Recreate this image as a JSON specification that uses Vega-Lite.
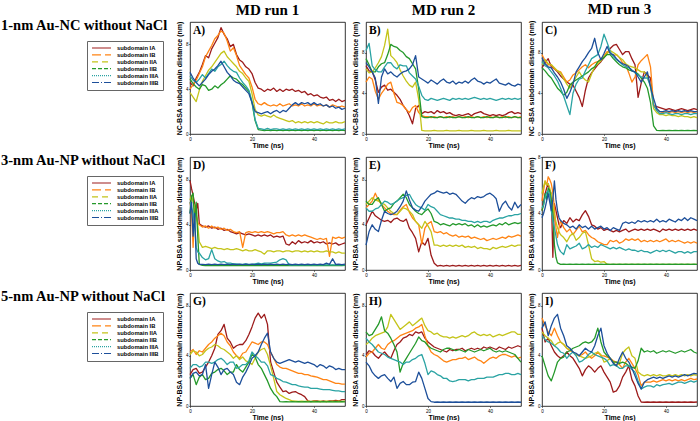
{
"$schema":"https://vega.github.io/schema/vega-lite/v6.json",
"padding":{"left":1,"top":1,"right":1,"bottom":1},
"datasets":{
"A":[{"t":0,"a":4.6,"b":4.0,"c":3.7,"d":4.9,"e":5.2,"f":5.5},{"t":1,"a":4.3,"b":4.4,"c":3.3,"d":4.5,"e":4.8,"f":5.0},{"t":2,"a":5.0,"b":4.8,"c":2.9,"d":4.2,"e":4.6,"f":4.6},{"t":3,"a":5.5,"b":5.4,"c":3.9,"d":4.0,"e":4.9,"f":4.3},{"t":4,"a":6.2,"b":6.0,"c":4.7,"d":4.4,"e":5.3,"f":4.6},{"t":5,"a":7.0,"b":6.9,"c":5.2,"d":4.3,"e":5.0,"f":4.9},{"t":6,"a":6.8,"b":7.4,"c":5.7,"d":3.9,"e":5.4,"f":5.3},{"t":7,"a":7.6,"b":7.9,"c":6.0,"d":4.0,"e":5.8,"f":5.6},{"t":8,"a":8.1,"b":8.5,"c":6.4,"d":4.3,"e":5.6,"f":5.8},{"t":9,"a":8.6,"b":8.8,"c":6.8,"d":4.1,"e":6.0,"f":6.1},{"t":10,"a":9.5,"b":9.2,"c":7.2,"d":4.4,"e":6.2,"f":6.5},{"t":11,"a":8.9,"b":9.0,"c":7.4,"d":4.6,"e":6.5,"f":6.0},{"t":12,"a":8.5,"b":8.3,"c":6.9,"d":4.9,"e":6.1,"f":5.5},{"t":13,"a":7.8,"b":7.4,"c":6.6,"d":5.2,"e":5.8,"f":5.2},{"t":14,"a":8.0,"b":7.7,"c":6.3,"d":5.0,"e":5.6,"f":4.8},{"t":15,"a":7.1,"b":7.0,"c":6.0,"d":4.9,"e":5.5,"f":4.6},{"t":16,"a":6.6,"b":6.1,"c":5.6,"d":4.6,"e":5.0,"f":4.5},{"t":17,"a":6.4,"b":5.7,"c":5.4,"d":4.4,"e":4.6,"f":4.2},{"t":18,"a":6.0,"b":5.3,"c":5.0,"d":4.1,"e":4.3,"f":3.9},{"t":19,"a":5.8,"b":5.0,"c":4.7,"d":3.8,"e":3.9,"f":3.6},{"t":20,"a":5.4,"b":4.2,"c":3.6,"d":2.8,"e":2.9,"f":2.8},{"t":21,"a":4.6,"b":3.1,"c":2.2,"d":1.2,"e":1.3,"f":2.0},{"t":22,"a":4.1,"b":2.7,"c":1.7,"d":0.4,"e":0.5,"f":1.9},{"t":23,"a":4.0,"b":2.6,"c":1.6,"d":0.35,"e":0.45,"f":1.8},{"t":24,"a":3.8,"b":2.8,"c":1.7,"d":0.3,"e":0.4,"f":1.9},{"t":25,"a":4.0,"b":2.6,"c":1.6,"d":0.35,"e":0.5,"f":2.0},{"t":26,"a":3.9,"b":2.5,"c":1.5,"d":0.3,"e":0.4,"f":1.8},{"t":27,"a":4.1,"b":2.6,"c":1.7,"d":0.35,"e":0.45,"f":2.0},{"t":28,"a":3.8,"b":2.5,"c":1.5,"d":0.3,"e":0.45,"f":2.1},{"t":29,"a":4.0,"b":2.7,"c":1.4,"d":0.35,"e":0.4,"f":1.9},{"t":30,"a":3.8,"b":2.5,"c":1.3,"d":0.3,"e":0.45,"f":2.1},{"t":31,"a":4.0,"b":2.6,"c":1.2,"d":0.35,"e":0.4,"f":2.0},{"t":32,"a":3.9,"b":2.7,"c":1.1,"d":0.3,"e":0.45,"f":2.3},{"t":33,"a":4.0,"b":2.5,"c":1.2,"d":0.35,"e":0.4,"f":2.6},{"t":34,"a":3.8,"b":2.6,"c":1.0,"d":0.3,"e":0.45,"f":2.8},{"t":35,"a":3.9,"b":2.5,"c":1.1,"d":0.35,"e":0.4,"f":2.6},{"t":36,"a":3.7,"b":2.7,"c":1.0,"d":0.3,"e":0.45,"f":2.8},{"t":37,"a":3.8,"b":2.5,"c":1.1,"d":0.35,"e":0.4,"f":2.7},{"t":38,"a":3.5,"b":2.6,"c":1.0,"d":0.3,"e":0.45,"f":2.8},{"t":39,"a":3.6,"b":2.5,"c":1.1,"d":0.35,"e":0.4,"f":2.6},{"t":40,"a":3.4,"b":2.7,"c":1.0,"d":0.3,"e":0.45,"f":2.8},{"t":41,"a":3.5,"b":2.5,"c":1.1,"d":0.35,"e":0.4,"f":2.6},{"t":42,"a":3.3,"b":2.6,"c":1.0,"d":0.3,"e":0.45,"f":2.7},{"t":43,"a":3.2,"b":2.5,"c":0.9,"d":0.35,"e":0.4,"f":2.5},{"t":44,"a":3.3,"b":2.6,"c":1.1,"d":0.3,"e":0.45,"f":2.6},{"t":45,"a":3.0,"b":2.4,"c":1.0,"d":0.35,"e":0.4,"f":2.4},{"t":46,"a":3.1,"b":2.6,"c":1.0,"d":0.3,"e":0.45,"f":2.5},{"t":47,"a":2.9,"b":2.5,"c":1.1,"d":0.35,"e":0.4,"f":2.3},{"t":48,"a":3.1,"b":2.4,"c":1.0,"d":0.3,"e":0.45,"f":2.4},{"t":49,"a":2.9,"b":2.5,"c":1.0,"d":0.35,"e":0.4,"f":2.2},{"t":50,"a":3.0,"b":2.4,"c":1.1,"d":0.3,"e":0.45,"f":2.3}],
"B":[{"t":0,"a":6.7,"b":5.1,"c":6.4,"d":7.4,"e":8.2,"f":7.0},{"t":1,"a":6.2,"b":5.6,"c":6.0,"d":6.8,"e":8.9,"f":6.6},{"t":2,"a":6.1,"b":5.4,"c":6.1,"d":6.1,"e":6.7,"f":6.1},{"t":3,"a":5.3,"b":4.2,"c":6.5,"d":6.1,"e":6.3,"f":5.5},{"t":4,"a":4.1,"b":3.4,"c":7.0,"d":6.6,"e":6.1,"f":3.0},{"t":5,"a":4.6,"b":4.0,"c":7.6,"d":6.9,"e":6.1,"f":5.6},{"t":6,"a":4.8,"b":4.4,"c":8.7,"d":7.0,"e":6.6,"f":6.4},{"t":7,"a":4.3,"b":4.9,"c":10.3,"d":7.8,"e":7.0,"f":5.9},{"t":8,"a":4.4,"b":5.1,"c":7.7,"d":8.8,"e":7.0,"f":6.1},{"t":9,"a":4.1,"b":4.0,"c":7.4,"d":8.6,"e":6.6,"f":5.8},{"t":10,"a":3.8,"b":3.1,"c":7.0,"d":8.5,"e":6.4,"f":5.6},{"t":11,"a":3.4,"b":3.0,"c":6.3,"d":8.2,"e":6.8,"f":5.9},{"t":12,"a":2.8,"b":2.8,"c":5.7,"d":8.0,"e":6.7,"f":6.1},{"t":13,"a":2.4,"b":2.4,"c":5.2,"d":7.6,"e":6.7,"f":6.2},{"t":14,"a":1.8,"b":2.1,"c":4.8,"d":7.4,"e":6.0,"f":6.4},{"t":15,"a":1.0,"b":2.6,"c":4.6,"d":6.9,"e":5.7,"f":6.8},{"t":16,"a":2.5,"b":2.8,"c":5.1,"d":6.4,"e":5.4,"f":7.7},{"t":17,"a":2.8,"b":2.1,"c":3.4,"d":4.4,"e":4.7,"f":5.6},{"t":18,"a":2.0,"b":1.8,"c":0.35,"d":1.7,"e":3.8,"f":5.4},{"t":19,"a":2.2,"b":1.7,"c":0.3,"d":1.6,"e":3.4,"f":5.2},{"t":20,"a":2.1,"b":1.7,"c":0.3,"d":1.6,"e":3.3,"f":5.0},{"t":21,"a":2.2,"b":1.6,"c":0.3,"d":1.7,"e":3.5,"f":5.3},{"t":22,"a":2.0,"b":1.7,"c":0.35,"d":1.6,"e":3.4,"f":5.1},{"t":23,"a":2.3,"b":1.6,"c":0.3,"d":1.6,"e":3.3,"f":4.9},{"t":24,"a":2.1,"b":1.7,"c":0.3,"d":1.7,"e":3.4,"f":5.2},{"t":25,"a":2.2,"b":1.6,"c":0.3,"d":1.6,"e":3.5,"f":5.4},{"t":26,"a":2.0,"b":1.7,"c":0.35,"d":1.6,"e":3.4,"f":5.1},{"t":27,"a":2.1,"b":1.6,"c":0.3,"d":1.7,"e":3.3,"f":5.0},{"t":28,"a":1.9,"b":1.7,"c":0.3,"d":1.6,"e":3.5,"f":5.2},{"t":29,"a":1.8,"b":1.6,"c":0.3,"d":1.6,"e":3.4,"f":4.9},{"t":30,"a":1.9,"b":1.7,"c":0.35,"d":1.7,"e":3.5,"f":5.1},{"t":31,"a":1.8,"b":1.6,"c":0.3,"d":1.6,"e":3.4,"f":5.0},{"t":32,"a":1.9,"b":1.7,"c":0.3,"d":1.6,"e":3.5,"f":5.2},{"t":33,"a":2.0,"b":1.6,"c":0.3,"d":1.7,"e":3.4,"f":5.0},{"t":34,"a":1.8,"b":1.7,"c":0.35,"d":1.6,"e":3.5,"f":5.3},{"t":35,"a":2.0,"b":1.6,"c":0.3,"d":1.6,"e":3.6,"f":5.5},{"t":36,"a":2.1,"b":1.7,"c":0.3,"d":1.7,"e":3.5,"f":5.2},{"t":37,"a":2.2,"b":1.6,"c":0.3,"d":1.6,"e":3.4,"f":5.1},{"t":38,"a":2.0,"b":1.7,"c":0.35,"d":1.6,"e":3.5,"f":4.9},{"t":39,"a":1.9,"b":1.6,"c":0.3,"d":1.7,"e":3.4,"f":5.1},{"t":40,"a":1.8,"b":1.7,"c":0.3,"d":1.6,"e":3.5,"f":5.0},{"t":41,"a":1.9,"b":1.6,"c":0.3,"d":1.6,"e":3.4,"f":5.2},{"t":42,"a":1.8,"b":1.7,"c":0.35,"d":1.7,"e":3.3,"f":5.4},{"t":43,"a":1.9,"b":1.6,"c":0.3,"d":1.6,"e":3.4,"f":5.0},{"t":44,"a":1.8,"b":1.7,"c":0.3,"d":1.6,"e":3.5,"f":4.9},{"t":45,"a":1.9,"b":1.6,"c":0.3,"d":1.7,"e":3.4,"f":4.8},{"t":46,"a":2.1,"b":1.7,"c":0.35,"d":1.6,"e":3.5,"f":5.0},{"t":47,"a":2.2,"b":1.6,"c":0.3,"d":1.6,"e":3.4,"f":4.8},{"t":48,"a":2.0,"b":1.7,"c":0.3,"d":1.7,"e":3.5,"f":4.7},{"t":49,"a":2.1,"b":1.6,"c":0.3,"d":1.6,"e":3.4,"f":4.9},{"t":50,"a":2.0,"b":1.7,"c":0.3,"d":1.6,"e":3.5,"f":4.8}],
"C":[{"t":0,"a":6.5,"b":7.8,"c":6.8,"d":6.5,"e":7.1,"f":7.5},{"t":1,"a":7.0,"b":7.2,"c":7.3,"d":6.2,"e":6.7,"f":6.9},{"t":2,"a":7.4,"b":6.8,"c":6.9,"d":5.8,"e":6.5,"f":6.6},{"t":3,"a":6.6,"b":6.8,"c":6.8,"d":5.5,"e":6.1,"f":6.5},{"t":4,"a":6.4,"b":6.4,"c":6.5,"d":5.0,"e":5.7,"f":6.0},{"t":5,"a":6.1,"b":6.2,"c":6.2,"d":4.5,"e":5.2,"f":5.6},{"t":6,"a":5.7,"b":6.1,"c":6.0,"d":4.2,"e":4.5,"f":5.1},{"t":7,"a":5.4,"b":5.6,"c":5.4,"d":3.8,"e":3.7,"f":4.4},{"t":8,"a":5.1,"b":5.1,"c":4.9,"d":4.1,"e":2.8,"f":3.5},{"t":9,"a":4.9,"b":5.3,"c":4.5,"d":4.8,"e":1.9,"f":4.1},{"t":10,"a":4.8,"b":5.8,"c":5.0,"d":5.1,"e":4.0,"f":4.9},{"t":11,"a":4.2,"b":6.0,"c":5.6,"d":5.3,"e":4.9,"f":6.1},{"t":12,"a":3.6,"b":6.3,"c":6.1,"d":5.5,"e":5.4,"f":6.6},{"t":13,"a":2.7,"b":6.6,"c":5.6,"d":5.7,"e":5.5,"f":7.1},{"t":14,"a":4.3,"b":6.8,"c":5.3,"d":5.9,"e":6.2,"f":7.5},{"t":15,"a":5.5,"b":6.5,"c":5.1,"d":6.1,"e":6.8,"f":8.0},{"t":16,"a":6.0,"b":6.8,"c":5.9,"d":6.4,"e":7.4,"f":8.4},{"t":17,"a":6.4,"b":7.0,"c":6.6,"d":6.6,"e":7.6,"f":9.4},{"t":18,"a":6.8,"b":7.1,"c":6.9,"d":7.1,"e":7.8,"f":8.0},{"t":19,"a":7.1,"b":7.4,"c":7.2,"d":7.3,"e":8.6,"f":7.3},{"t":20,"a":7.5,"b":7.7,"c":7.6,"d":7.5,"e":9.8,"f":7.9},{"t":21,"a":7.9,"b":8.1,"c":7.9,"d":7.8,"e":9.0,"f":8.6},{"t":22,"a":8.4,"b":8.0,"c":8.2,"d":7.8,"e":8.1,"f":7.9},{"t":23,"a":8.7,"b":7.7,"c":8.0,"d":7.4,"e":7.6,"f":7.8},{"t":24,"a":8.8,"b":7.8,"c":7.8,"d":7.1,"e":7.3,"f":7.4},{"t":25,"a":8.3,"b":7.5,"c":7.5,"d":6.8,"e":7.1,"f":7.1},{"t":26,"a":7.8,"b":7.0,"c":7.3,"d":6.6,"e":6.8,"f":6.9},{"t":27,"a":8.1,"b":6.8,"c":6.9,"d":6.5,"e":6.6,"f":6.8},{"t":28,"a":8.1,"b":6.0,"c":6.7,"d":6.3,"e":6.5,"f":6.6},{"t":29,"a":7.4,"b":5.1,"c":6.6,"d":6.2,"e":6.3,"f":6.2},{"t":30,"a":6.8,"b":5.6,"c":6.5,"d":6.1,"e":6.0,"f":6.1},{"t":31,"a":3.6,"b":6.8,"c":6.3,"d":5.9,"e":5.8,"f":5.6},{"t":32,"a":5.0,"b":7.2,"c":6.1,"d":5.5,"e":5.6,"f":5.1},{"t":33,"a":6.1,"b":7.5,"c":6.1,"d":5.1,"e":5.5,"f":5.6},{"t":34,"a":5.8,"b":7.8,"c":5.6,"d":4.5,"e":5.5,"f":6.1},{"t":35,"a":5.5,"b":6.6,"c":4.8,"d":3.1,"e":4.7,"f":4.6},{"t":36,"a":2.8,"b":2.9,"c":2.5,"d":0.8,"e":2.8,"f":3.5},{"t":37,"a":2.7,"b":2.4,"c":2.1,"d":0.35,"e":2.3,"f":2.5},{"t":38,"a":2.6,"b":2.2,"c":1.9,"d":0.33,"e":2.0,"f":2.2},{"t":39,"a":2.5,"b":2.1,"c":1.9,"d":0.35,"e":2.0,"f":2.2},{"t":40,"a":2.4,"b":2.2,"c":1.8,"d":0.33,"e":2.1,"f":2.3},{"t":41,"a":2.5,"b":2.1,"c":1.9,"d":0.35,"e":2.0,"f":2.2},{"t":42,"a":2.4,"b":2.2,"c":1.8,"d":0.33,"e":1.9,"f":2.3},{"t":43,"a":2.3,"b":2.1,"c":1.8,"d":0.35,"e":2.0,"f":2.2},{"t":44,"a":2.4,"b":2.2,"c":1.7,"d":0.33,"e":2.0,"f":2.3},{"t":45,"a":2.5,"b":2.1,"c":1.8,"d":0.35,"e":1.9,"f":2.2},{"t":46,"a":2.4,"b":2.2,"c":1.7,"d":0.33,"e":2.0,"f":2.3},{"t":47,"a":2.3,"b":2.1,"c":1.7,"d":0.35,"e":2.0,"f":2.2},{"t":48,"a":2.4,"b":2.2,"c":1.6,"d":0.33,"e":1.9,"f":2.3},{"t":49,"a":2.5,"b":2.1,"c":1.7,"d":0.35,"e":2.0,"f":2.2},{"t":50,"a":2.4,"b":2.2,"c":1.6,"d":0.33,"e":2.0,"f":2.2}],
"D":[{"t":0,"a":7.9,"b":6.0,"c":6.2,"d":5.0,"e":6.0,"f":5.0},{"t":0.5,"a":7.2,"b":5.2,"c":6.6,"d":6.5,"e":5.5,"f":6.0},{"t":1,"a":6.6,"b":2.0,"c":6.0,"d":6.8,"e":5.0,"f":3.0},{"t":1.5,"a":5.9,"b":5.5,"c":5.6,"d":4.0,"e":4.2,"f":5.0},{"t":2,"a":5.3,"b":4.8,"c":5.0,"d":6.0,"e":2.0,"f":1.0},{"t":2.5,"a":5.9,"b":4.2,"c":4.0,"d":3.0,"e":1.6,"f":0.6},{"t":3,"a":4.1,"b":4.0,"c":2.5,"d":0.5,"e":1.5,"f":0.5},{"t":4,"a":3.9,"b":3.8,"c":2.0,"d":0.42,"e":1.1,"f":0.5},{"t":5,"a":3.8,"b":3.9,"c":2.1,"d":0.38,"e":0.9,"f":0.48},{"t":6,"a":3.9,"b":3.7,"c":2.0,"d":0.42,"e":1.0,"f":0.52},{"t":7,"a":3.7,"b":3.9,"c":1.9,"d":0.38,"e":1.8,"f":0.48},{"t":8,"a":3.8,"b":3.7,"c":2.0,"d":0.42,"e":1.0,"f":0.52},{"t":9,"a":3.6,"b":3.8,"c":1.9,"d":0.38,"e":0.8,"f":0.48},{"t":10,"a":3.7,"b":3.6,"c":1.9,"d":0.42,"e":0.7,"f":0.52},{"t":11,"a":3.5,"b":3.7,"c":1.8,"d":0.38,"e":0.75,"f":0.48},{"t":12,"a":3.6,"b":3.5,"c":1.9,"d":0.42,"e":0.6,"f":0.52},{"t":13,"a":3.4,"b":3.6,"c":1.8,"d":0.38,"e":0.6,"f":0.48},{"t":14,"a":3.3,"b":3.4,"c":1.8,"d":0.42,"e":0.55,"f":0.52},{"t":15,"a":3.2,"b":3.3,"c":1.9,"d":0.38,"e":0.55,"f":0.48},{"t":16,"a":3.3,"b":3.4,"c":1.8,"d":0.42,"e":0.5,"f":0.52},{"t":17,"a":3.2,"b":2.0,"c":1.7,"d":0.38,"e":0.5,"f":0.48},{"t":18,"a":3.1,"b":3.3,"c":1.8,"d":0.42,"e":0.55,"f":0.52},{"t":19,"a":3.2,"b":3.4,"c":1.7,"d":0.38,"e":0.5,"f":0.48},{"t":20,"a":3.1,"b":3.3,"c":1.7,"d":0.42,"e":0.5,"f":0.52},{"t":21,"a":3.0,"b":3.4,"c":1.8,"d":0.38,"e":0.55,"f":0.48},{"t":22,"a":3.1,"b":3.3,"c":1.7,"d":0.42,"e":0.6,"f":0.52},{"t":23,"a":3.0,"b":3.4,"c":1.6,"d":0.38,"e":0.55,"f":0.48},{"t":24,"a":3.1,"b":3.3,"c":1.4,"d":0.42,"e":0.6,"f":0.52},{"t":25,"a":3.0,"b":3.4,"c":1.7,"d":0.38,"e":0.6,"f":0.48},{"t":26,"a":3.1,"b":3.3,"c":1.7,"d":0.42,"e":0.6,"f":0.52},{"t":27,"a":2.9,"b":3.2,"c":1.6,"d":0.38,"e":0.65,"f":0.48},{"t":28,"a":3.0,"b":3.3,"c":1.7,"d":0.42,"e":0.7,"f":0.52},{"t":29,"a":2.9,"b":3.3,"c":1.7,"d":0.38,"e":0.9,"f":0.48},{"t":30,"a":3.0,"b":3.4,"c":1.6,"d":0.42,"e":1.0,"f":0.52},{"t":31,"a":2.3,"b":3.1,"c":1.7,"d":0.38,"e":0.9,"f":0.48},{"t":32,"a":2.2,"b":3.0,"c":1.7,"d":0.42,"e":0.45,"f":0.52},{"t":33,"a":2.5,"b":3.1,"c":1.6,"d":0.38,"e":0.45,"f":0.48},{"t":34,"a":2.3,"b":3.0,"c":1.7,"d":0.42,"e":0.45,"f":0.52},{"t":35,"a":2.6,"b":3.1,"c":1.7,"d":0.38,"e":0.45,"f":0.48},{"t":36,"a":2.4,"b":3.0,"c":1.6,"d":0.42,"e":0.45,"f":0.52},{"t":37,"a":2.5,"b":3.1,"c":1.7,"d":0.38,"e":0.45,"f":0.48},{"t":38,"a":2.4,"b":3.0,"c":1.6,"d":0.42,"e":0.45,"f":0.52},{"t":39,"a":2.6,"b":2.9,"c":1.7,"d":0.38,"e":0.45,"f":0.48},{"t":40,"a":2.4,"b":2.8,"c":1.6,"d":0.42,"e":0.45,"f":0.52},{"t":41,"a":2.5,"b":2.7,"c":1.7,"d":0.38,"e":0.45,"f":0.48},{"t":42,"a":2.4,"b":2.8,"c":1.6,"d":0.42,"e":0.45,"f":0.52},{"t":43,"a":2.5,"b":2.7,"c":1.6,"d":0.38,"e":0.45,"f":0.48},{"t":44,"a":2.3,"b":2.8,"c":1.7,"d":0.42,"e":0.45,"f":0.6},{"t":45,"a":2.4,"b":1.2,"c":1.6,"d":0.38,"e":0.45,"f":0.5},{"t":46,"a":2.3,"b":2.9,"c":1.6,"d":0.42,"e":0.45,"f":1.0},{"t":47,"a":2.4,"b":2.8,"c":1.5,"d":0.38,"e":0.45,"f":0.5},{"t":48,"a":2.2,"b":2.9,"c":1.6,"d":0.42,"e":0.45,"f":0.52},{"t":49,"a":2.3,"b":2.8,"c":1.5,"d":0.38,"e":0.45,"f":0.48},{"t":50,"a":2.4,"b":2.9,"c":1.5,"d":0.42,"e":0.45,"f":0.52}],
"E":[{"t":0,"a":4.0,"b":5.5,"c":5.8,"d":6.1,"e":5.5,"f":2.2},{"t":1,"a":4.6,"b":5.8,"c":6.1,"d":5.8,"e":5.2,"f":3.4},{"t":2,"a":5.2,"b":6.1,"c":6.4,"d":5.8,"e":5.2,"f":4.0},{"t":3,"a":4.8,"b":6.8,"c":6.2,"d":6.2,"e":5.4,"f":3.6},{"t":4,"a":4.6,"b":6.2,"c":6.1,"d":6.4,"e":5.5,"f":3.4},{"t":5,"a":4.4,"b":5.8,"c":5.9,"d":5.8,"e":5.8,"f":4.4},{"t":6,"a":4.3,"b":5.5,"c":5.8,"d":5.2,"e":6.1,"f":5.2},{"t":7,"a":4.4,"b":5.2,"c":5.5,"d":5.4,"e":6.0,"f":5.0},{"t":8,"a":4.2,"b":5.0,"c":5.2,"d":5.5,"e":5.8,"f":4.9},{"t":9,"a":4.5,"b":4.9,"c":5.0,"d":5.9,"e":5.9,"f":5.0},{"t":10,"a":4.6,"b":4.9,"c":4.9,"d":6.1,"e":6.1,"f":5.2},{"t":11,"a":4.4,"b":5.3,"c":5.2,"d":6.4,"e":6.3,"f":5.6},{"t":12,"a":4.3,"b":5.6,"c":5.5,"d":6.7,"e":6.4,"f":6.1},{"t":13,"a":4.5,"b":5.8,"c":5.4,"d":6.4,"e":6.6,"f":7.0},{"t":14,"a":3.7,"b":5.1,"c":5.2,"d":5.8,"e":6.7,"f":6.2},{"t":15,"a":3.3,"b":4.6,"c":4.9,"d":5.5,"e":6.2,"f":5.5},{"t":16,"a":2.8,"b":4.3,"c":4.3,"d":5.2,"e":5.8,"f":5.3},{"t":17,"a":1.6,"b":4.0,"c":4.0,"d":5.0,"e":5.6,"f":5.2},{"t":18,"a":2.5,"b":2.3,"c":3.7,"d":4.9,"e":5.5,"f":5.6},{"t":19,"a":2.2,"b":3.7,"c":4.3,"d":5.2,"e":5.3,"f":6.1},{"t":20,"a":2.8,"b":4.1,"c":3.9,"d":5.4,"e":5.8,"f":6.4},{"t":21,"a":1.3,"b":4.3,"c":3.4,"d":5.0,"e":5.6,"f":6.7},{"t":22,"a":0.6,"b":3.4,"c":2.2,"d":4.3,"e":5.5,"f":6.8},{"t":23,"a":0.35,"b":3.3,"c":2.2,"d":4.2,"e":5.2,"f":7.0},{"t":24,"a":0.4,"b":3.4,"c":2.1,"d":4.0,"e":4.9,"f":6.9},{"t":25,"a":0.35,"b":3.2,"c":2.2,"d":4.1,"e":4.8,"f":6.8},{"t":26,"a":0.4,"b":3.3,"c":2.1,"d":4.0,"e":4.7,"f":6.9},{"t":27,"a":0.35,"b":3.1,"c":2.2,"d":3.9,"e":4.6,"f":6.7},{"t":28,"a":0.4,"b":3.0,"c":2.1,"d":4.1,"e":4.6,"f":6.8},{"t":29,"a":0.35,"b":3.1,"c":2.2,"d":4.0,"e":4.5,"f":6.7},{"t":30,"a":0.4,"b":2.9,"c":2.1,"d":4.1,"e":4.5,"f":6.4},{"t":31,"a":0.35,"b":3.0,"c":2.2,"d":4.0,"e":4.4,"f":6.1},{"t":32,"a":0.4,"b":2.9,"c":2.0,"d":4.1,"e":4.4,"f":5.9},{"t":33,"a":0.35,"b":3.0,"c":2.1,"d":3.9,"e":4.3,"f":6.2},{"t":34,"a":0.4,"b":2.8,"c":2.0,"d":4.0,"e":4.3,"f":6.4},{"t":35,"a":0.35,"b":2.9,"c":2.1,"d":3.8,"e":4.2,"f":6.3},{"t":36,"a":0.4,"b":2.8,"c":1.9,"d":4.0,"e":4.3,"f":6.5},{"t":37,"a":0.35,"b":2.7,"c":2.0,"d":3.8,"e":4.2,"f":6.4},{"t":38,"a":0.4,"b":2.8,"c":1.9,"d":3.9,"e":4.3,"f":6.5},{"t":39,"a":0.35,"b":2.6,"c":1.9,"d":3.8,"e":4.3,"f":6.7},{"t":40,"a":0.4,"b":2.7,"c":1.8,"d":3.9,"e":4.2,"f":6.8},{"t":41,"a":0.35,"b":2.8,"c":2.0,"d":4.0,"e":4.4,"f":6.6},{"t":42,"a":0.4,"b":2.7,"c":1.9,"d":3.9,"e":4.5,"f":6.3},{"t":43,"a":0.35,"b":2.8,"c":2.0,"d":4.1,"e":4.6,"f":5.2},{"t":44,"a":0.4,"b":2.9,"c":2.1,"d":4.0,"e":4.6,"f":5.8},{"t":45,"a":0.35,"b":2.8,"c":2.0,"d":4.2,"e":4.7,"f":6.1},{"t":46,"a":0.4,"b":3.0,"c":2.1,"d":4.0,"e":4.8,"f":5.6},{"t":47,"a":0.35,"b":2.9,"c":2.2,"d":4.1,"e":4.8,"f":5.3},{"t":48,"a":0.4,"b":3.0,"c":2.1,"d":4.2,"e":4.9,"f":6.0},{"t":49,"a":0.35,"b":3.1,"c":2.2,"d":4.1,"e":4.9,"f":5.5},{"t":50,"a":0.4,"b":3.0,"c":2.2,"d":4.2,"e":5.0,"f":5.8}],
"F":[{"t":0,"a":4.2,"b":4.9,"c":5.4,"d":4.2,"e":4.4,"f":3.7},{"t":0.5,"a":4.8,"b":5.6,"c":5.9,"d":4.6,"e":4.6,"f":4.0},{"t":1,"a":5.4,"b":6.3,"c":6.3,"d":5.4,"e":5.1,"f":4.4},{"t":1.5,"a":5.8,"b":6.0,"c":6.0,"d":5.0,"e":5.5,"f":4.9},{"t":2,"a":6.1,"b":6.6,"c":6.1,"d":5.8,"e":5.6,"f":5.4},{"t":2.5,"a":5.6,"b":6.4,"c":5.8,"d":5.6,"e":5.3,"f":4.8},{"t":3,"a":5.4,"b":6.1,"c":5.4,"d":4.9,"e":4.2,"f":4.2},{"t":3.5,"a":0.9,"b":5.5,"c":4.6,"d":4.0,"e":3.5,"f":5.0},{"t":4,"a":4.7,"b":4.4,"c":3.9,"d":1.8,"e":3.0,"f":6.3},{"t":4.5,"a":4.2,"b":3.0,"c":3.4,"d":0.9,"e":2.4,"f":5.0},{"t":5,"a":3.7,"b":2.3,"c":3.0,"d":0.5,"e":1.8,"f":4.2},{"t":5.5,"a":3.2,"b":3.0,"c":2.7,"d":0.45,"e":1.5,"f":3.7},{"t":6,"a":3.0,"b":3.5,"c":2.5,"d":0.4,"e":1.3,"f":3.5},{"t":7,"a":3.5,"b":3.0,"c":2.3,"d":0.42,"e":1.1,"f":3.3},{"t":8,"a":3.3,"b":2.7,"c":2.0,"d":0.4,"e":1.8,"f":3.2},{"t":9,"a":3.7,"b":2.9,"c":2.4,"d":0.42,"e":1.5,"f":3.0},{"t":10,"a":3.4,"b":2.5,"c":2.6,"d":0.4,"e":1.6,"f":3.1},{"t":11,"a":3.6,"b":2.8,"c":2.1,"d":0.42,"e":1.7,"f":2.9},{"t":12,"a":3.5,"b":3.1,"c":2.3,"d":0.4,"e":1.9,"f":3.2},{"t":13,"a":3.9,"b":2.7,"c":2.6,"d":0.42,"e":1.5,"f":3.0},{"t":14,"a":4.2,"b":2.8,"c":2.7,"d":0.4,"e":1.6,"f":3.1},{"t":15,"a":3.8,"b":2.5,"c":1.8,"d":0.42,"e":1.8,"f":2.9},{"t":16,"a":3.2,"b":2.3,"c":0.8,"d":0.4,"e":1.6,"f":3.1},{"t":17,"a":3.1,"b":2.2,"c":0.6,"d":0.42,"e":1.7,"f":2.9},{"t":18,"a":2.9,"b":2.0,"c":0.65,"d":0.4,"e":1.6,"f":3.0},{"t":19,"a":3.0,"b":1.9,"c":0.55,"d":0.42,"e":1.8,"f":3.1},{"t":20,"a":2.8,"b":1.8,"c":0.6,"d":0.4,"e":1.7,"f":2.9},{"t":21,"a":2.9,"b":1.8,"c":0.4,"d":0.42,"e":1.6,"f":3.0},{"t":22,"a":2.8,"b":2.1,"c":0.4,"d":0.4,"e":1.5,"f":2.8},{"t":23,"a":2.7,"b":2.0,"c":0.4,"d":0.42,"e":1.6,"f":3.0},{"t":24,"a":2.8,"b":2.1,"c":0.4,"d":0.4,"e":1.5,"f":2.9},{"t":25,"a":2.7,"b":1.9,"c":0.4,"d":0.42,"e":1.6,"f":2.8},{"t":26,"a":2.8,"b":2.0,"c":0.4,"d":0.4,"e":1.5,"f":3.3},{"t":27,"a":2.9,"b":2.2,"c":0.4,"d":0.42,"e":1.4,"f":3.4},{"t":28,"a":2.7,"b":2.1,"c":0.4,"d":0.4,"e":1.5,"f":3.3},{"t":29,"a":2.8,"b":2.2,"c":0.4,"d":0.42,"e":1.4,"f":3.4},{"t":30,"a":2.9,"b":2.1,"c":0.4,"d":0.4,"e":1.4,"f":3.3},{"t":31,"a":2.8,"b":2.2,"c":0.4,"d":0.42,"e":1.3,"f":3.5},{"t":32,"a":2.9,"b":2.0,"c":0.4,"d":0.4,"e":1.4,"f":3.4},{"t":33,"a":2.8,"b":2.1,"c":0.4,"d":0.42,"e":1.3,"f":3.5},{"t":34,"a":2.9,"b":2.0,"c":0.4,"d":0.4,"e":1.3,"f":3.4},{"t":35,"a":2.8,"b":2.1,"c":0.4,"d":0.42,"e":1.2,"f":3.5},{"t":36,"a":2.9,"b":2.0,"c":0.4,"d":0.4,"e":1.3,"f":3.4},{"t":37,"a":2.8,"b":2.1,"c":0.4,"d":0.42,"e":1.4,"f":3.6},{"t":38,"a":2.7,"b":2.0,"c":0.4,"d":0.4,"e":1.3,"f":3.4},{"t":39,"a":2.9,"b":2.1,"c":0.4,"d":0.42,"e":1.4,"f":3.5},{"t":40,"a":2.8,"b":2.2,"c":0.4,"d":0.4,"e":1.3,"f":3.4},{"t":41,"a":2.9,"b":2.0,"c":0.4,"d":0.42,"e":1.4,"f":3.6},{"t":42,"a":2.8,"b":2.1,"c":0.4,"d":0.4,"e":1.3,"f":3.5},{"t":43,"a":2.9,"b":2.0,"c":0.4,"d":0.42,"e":1.2,"f":3.4},{"t":44,"a":2.8,"b":2.1,"c":0.4,"d":0.4,"e":1.3,"f":3.6},{"t":45,"a":2.9,"b":2.0,"c":0.4,"d":0.42,"e":1.3,"f":3.5},{"t":46,"a":2.8,"b":1.9,"c":0.4,"d":0.4,"e":1.2,"f":3.7},{"t":47,"a":2.9,"b":2.0,"c":0.4,"d":0.42,"e":1.3,"f":3.5},{"t":48,"a":2.8,"b":1.9,"c":0.4,"d":0.4,"e":1.2,"f":3.7},{"t":49,"a":2.9,"b":2.0,"c":0.4,"d":0.42,"e":1.3,"f":3.6},{"t":50,"a":2.8,"b":1.9,"c":0.4,"d":0.4,"e":1.3,"f":3.5}],
"G":[{"t":0,"a":2.5,"b":4.3,"c":4.1,"d":2.2,"e":3.0,"f":2.2},{"t":1,"a":2.9,"b":4.5,"c":4.4,"d":2.5,"e":3.3,"f":2.6},{"t":2,"a":3.0,"b":4.1,"c":4.3,"d":1.7,"e":3.3,"f":2.7},{"t":3,"a":2.6,"b":4.4,"c":4.0,"d":2.3,"e":3.1,"f":2.4},{"t":4,"a":2.7,"b":4.3,"c":4.1,"d":2.5,"e":3.2,"f":2.5},{"t":5,"a":3.1,"b":4.6,"c":4.4,"d":2.1,"e":3.5,"f":3.3},{"t":6,"a":3.5,"b":4.9,"c":4.6,"d":2.2,"e":3.5,"f":1.4},{"t":7,"a":4.0,"b":5.1,"c":4.7,"d":2.6,"e":3.4,"f":2.5},{"t":8,"a":4.6,"b":5.4,"c":4.9,"d":2.7,"e":3.5,"f":3.5},{"t":9,"a":5.7,"b":5.6,"c":4.8,"d":2.9,"e":3.7,"f":3.1},{"t":10,"a":6.0,"b":5.8,"c":4.6,"d":3.0,"e":3.8,"f":2.5},{"t":11,"a":6.5,"b":5.6,"c":4.5,"d":2.8,"e":3.6,"f":2.9},{"t":12,"a":5.4,"b":5.1,"c":4.3,"d":2.5,"e":3.3,"f":3.0},{"t":13,"a":5.1,"b":4.8,"c":4.1,"d":2.7,"e":3.5,"f":2.7},{"t":14,"a":4.6,"b":4.3,"c":3.8,"d":2.7,"e":3.5,"f":2.5},{"t":15,"a":4.8,"b":4.0,"c":4.0,"d":3.3,"e":3.0,"f":1.9},{"t":16,"a":4.9,"b":3.8,"c":3.7,"d":2.9,"e":3.1,"f":1.7},{"t":17,"a":4.9,"b":4.2,"c":3.9,"d":2.7,"e":3.3,"f":2.3},{"t":18,"a":5.2,"b":4.3,"c":3.6,"d":3.1,"e":3.3,"f":2.7},{"t":19,"a":5.7,"b":4.7,"c":3.5,"d":3.5,"e":3.6,"f":3.2},{"t":20,"a":6.3,"b":5.1,"c":3.3,"d":4.1,"e":4.3,"f":3.8},{"t":21,"a":7.0,"b":5.0,"c":3.8,"d":3.9,"e":4.0,"f":4.0},{"t":22,"a":7.4,"b":4.9,"c":4.3,"d":3.3,"e":3.8,"f":4.3},{"t":23,"a":7.0,"b":5.1,"c":4.5,"d":3.0,"e":3.5,"f":4.9},{"t":24,"a":7.3,"b":5.1,"c":4.6,"d":2.5,"e":3.5,"f":5.4},{"t":25,"a":6.5,"b":4.9,"c":4.1,"d":2.0,"e":3.2,"f":5.8},{"t":26,"a":3.5,"b":4.3,"c":3.2,"d":1.4,"e":2.5,"f":4.3},{"t":27,"a":2.7,"b":3.8,"c":2.2,"d":1.0,"e":2.4,"f":3.8},{"t":28,"a":1.9,"b":3.3,"c":1.15,"d":0.75,"e":2.2,"f":3.5},{"t":29,"a":1.5,"b":3.1,"c":0.9,"d":0.35,"e":2.1,"f":3.4},{"t":30,"a":1.15,"b":3.0,"c":0.75,"d":0.33,"e":1.95,"f":3.5},{"t":31,"a":1.2,"b":3.0,"c":0.6,"d":0.35,"e":1.9,"f":3.6},{"t":32,"a":1.0,"b":2.9,"c":0.5,"d":0.33,"e":1.8,"f":3.7},{"t":33,"a":1.1,"b":2.8,"c":0.4,"d":0.35,"e":1.7,"f":3.6},{"t":34,"a":1.15,"b":2.7,"c":0.38,"d":0.33,"e":1.7,"f":3.5},{"t":35,"a":1.0,"b":2.6,"c":0.36,"d":0.35,"e":1.6,"f":3.6},{"t":36,"a":0.9,"b":2.6,"c":0.38,"d":0.33,"e":1.55,"f":3.5},{"t":37,"a":0.75,"b":2.5,"c":0.36,"d":0.35,"e":1.5,"f":3.4},{"t":38,"a":0.4,"b":2.5,"c":0.38,"d":0.33,"e":1.5,"f":3.5},{"t":39,"a":0.35,"b":2.4,"c":0.36,"d":0.35,"e":1.4,"f":3.4},{"t":40,"a":0.4,"b":2.35,"c":0.38,"d":0.33,"e":1.4,"f":3.3},{"t":41,"a":0.4,"b":2.3,"c":0.36,"d":0.35,"e":1.4,"f":3.1},{"t":42,"a":0.35,"b":2.2,"c":0.38,"d":0.33,"e":1.35,"f":3.3},{"t":43,"a":0.4,"b":2.1,"c":0.36,"d":0.35,"e":1.3,"f":3.2},{"t":44,"a":0.35,"b":2.1,"c":0.38,"d":0.33,"e":1.3,"f":3.0},{"t":45,"a":0.4,"b":2.0,"c":0.36,"d":0.35,"e":1.3,"f":3.2},{"t":46,"a":0.4,"b":1.9,"c":0.38,"d":0.33,"e":1.25,"f":3.1},{"t":47,"a":0.45,"b":1.8,"c":0.36,"d":0.35,"e":1.2,"f":2.9},{"t":48,"a":0.4,"b":1.8,"c":0.38,"d":0.33,"e":1.2,"f":3.0},{"t":49,"a":0.5,"b":1.75,"c":0.36,"d":0.35,"e":1.15,"f":2.9},{"t":50,"a":0.5,"b":1.75,"c":0.38,"d":0.33,"e":1.15,"f":2.9}],
"H":[{"t":0,"a":4.1,"b":3.9,"c":4.9,"d":5.9,"e":5.4,"f":3.5},{"t":1,"a":4.4,"b":4.2,"c":5.1,"d":5.6,"e":5.1,"f":3.2},{"t":2,"a":4.3,"b":4.3,"c":5.4,"d":5.7,"e":4.9,"f":2.7},{"t":3,"a":4.0,"b":4.6,"c":5.6,"d":6.1,"e":4.6,"f":2.4},{"t":4,"a":3.8,"b":4.9,"c":5.7,"d":6.5,"e":4.3,"f":2.2},{"t":5,"a":4.1,"b":4.6,"c":5.8,"d":7.1,"e":4.2,"f":2.4},{"t":6,"a":4.3,"b":4.5,"c":5.9,"d":6.0,"e":4.1,"f":2.5},{"t":7,"a":4.0,"b":4.9,"c":6.3,"d":5.8,"e":3.9,"f":2.2},{"t":8,"a":3.8,"b":5.1,"c":7.3,"d":5.4,"e":3.8,"f":1.95},{"t":9,"a":4.4,"b":5.2,"c":6.9,"d":4.9,"e":3.7,"f":2.3},{"t":10,"a":4.9,"b":5.4,"c":6.5,"d":4.3,"e":3.6,"f":1.4},{"t":11,"a":5.1,"b":5.6,"c":6.1,"d":2.7,"e":3.5,"f":1.8},{"t":12,"a":5.4,"b":5.7,"c":6.3,"d":3.4,"e":3.3,"f":1.95},{"t":13,"a":5.5,"b":5.8,"c":6.5,"d":3.8,"e":3.5,"f":1.7},{"t":14,"a":5.7,"b":5.9,"c":6.7,"d":4.2,"e":3.5,"f":1.7},{"t":15,"a":5.6,"b":6.0,"c":6.4,"d":4.6,"e":3.7,"f":1.9},{"t":16,"a":5.9,"b":6.2,"c":6.6,"d":5.0,"e":3.8,"f":1.95},{"t":17,"a":5.8,"b":6.3,"c":6.8,"d":5.5,"e":4.0,"f":2.7},{"t":18,"a":5.9,"b":6.5,"c":7.0,"d":5.2,"e":4.1,"f":2.2},{"t":19,"a":5.4,"b":5.6,"c":6.4,"d":5.1,"e":3.4,"f":1.4},{"t":20,"a":5.1,"b":4.8,"c":6.0,"d":4.8,"e":2.5,"f":0.6},{"t":21,"a":4.9,"b":4.3,"c":5.9,"d":4.6,"e":2.8,"f":0.35},{"t":22,"a":4.7,"b":4.1,"c":5.7,"d":4.5,"e":2.7,"f":0.3},{"t":23,"a":4.6,"b":4.0,"c":5.8,"d":4.4,"e":2.5,"f":0.32},{"t":24,"a":4.5,"b":3.8,"c":5.6,"d":4.3,"e":2.4,"f":0.3},{"t":25,"a":4.4,"b":3.6,"c":5.5,"d":4.5,"e":2.2,"f":0.32},{"t":26,"a":4.3,"b":3.5,"c":5.5,"d":4.6,"e":2.2,"f":0.3},{"t":27,"a":4.5,"b":3.6,"c":5.4,"d":4.6,"e":2.0,"f":0.32},{"t":28,"a":4.4,"b":3.7,"c":5.5,"d":4.5,"e":1.95,"f":0.3},{"t":29,"a":4.5,"b":3.7,"c":5.4,"d":4.4,"e":2.0,"f":0.32},{"t":30,"a":4.5,"b":3.8,"c":5.5,"d":4.5,"e":2.1,"f":0.3},{"t":31,"a":4.6,"b":3.8,"c":5.6,"d":4.4,"e":2.1,"f":0.32},{"t":32,"a":4.4,"b":3.9,"c":5.5,"d":4.3,"e":2.1,"f":0.3},{"t":33,"a":4.5,"b":3.7,"c":5.6,"d":4.5,"e":2.0,"f":0.32},{"t":34,"a":4.6,"b":3.8,"c":5.8,"d":4.4,"e":2.1,"f":0.3},{"t":35,"a":4.5,"b":3.9,"c":5.9,"d":4.3,"e":2.1,"f":0.32},{"t":36,"a":4.6,"b":3.7,"c":5.7,"d":4.4,"e":2.2,"f":0.3},{"t":37,"a":4.5,"b":3.6,"c":5.6,"d":4.5,"e":2.2,"f":0.32},{"t":38,"a":4.7,"b":3.4,"c":5.7,"d":4.4,"e":2.2,"f":0.3},{"t":39,"a":4.6,"b":3.6,"c":5.6,"d":4.5,"e":2.3,"f":0.32},{"t":40,"a":4.7,"b":3.8,"c":5.7,"d":4.6,"e":2.3,"f":0.3},{"t":41,"a":4.6,"b":3.9,"c":5.5,"d":4.4,"e":2.3,"f":0.32},{"t":42,"a":4.5,"b":3.8,"c":5.6,"d":4.3,"e":2.4,"f":0.3},{"t":43,"a":4.7,"b":4.0,"c":5.7,"d":4.4,"e":2.5,"f":0.32},{"t":44,"a":4.6,"b":4.1,"c":5.6,"d":4.3,"e":2.5,"f":0.3},{"t":45,"a":4.5,"b":4.1,"c":5.7,"d":4.4,"e":2.6,"f":0.32},{"t":46,"a":4.7,"b":4.0,"c":5.8,"d":4.3,"e":2.6,"f":0.3},{"t":47,"a":4.6,"b":3.9,"c":5.9,"d":4.2,"e":2.5,"f":0.32},{"t":48,"a":4.7,"b":4.0,"c":5.9,"d":4.1,"e":2.5,"f":0.3},{"t":49,"a":4.8,"b":3.8,"c":5.7,"d":3.8,"e":2.6,"f":0.32},{"t":50,"a":4.7,"b":3.9,"c":5.7,"d":3.5,"e":2.5,"f":0.3}],
"I":[{"t":0,"a":6.2,"b":7.0,"c":5.9,"d":4.0,"e":5.6,"f":6.2},{"t":1,"a":5.1,"b":6.4,"c":5.6,"d":3.2,"e":5.3,"f":6.7},{"t":2,"a":5.4,"b":5.9,"c":5.4,"d":2.4,"e":5.1,"f":5.6},{"t":3,"a":4.8,"b":5.6,"c":5.2,"d":2.0,"e":5.0,"f":6.4},{"t":4,"a":4.3,"b":6.2,"c":4.8,"d":2.7,"e":4.8,"f":7.0},{"t":5,"a":4.0,"b":5.6,"c":5.0,"d":3.5,"e":4.6,"f":7.3},{"t":6,"a":3.8,"b":5.1,"c":5.1,"d":3.8,"e":4.3,"f":6.2},{"t":7,"a":4.0,"b":4.9,"c":4.9,"d":3.9,"e":4.2,"f":5.6},{"t":8,"a":4.3,"b":4.6,"c":4.6,"d":4.3,"e":3.8,"f":4.8},{"t":9,"a":4.0,"b":4.4,"c":4.5,"d":4.4,"e":4.1,"f":4.6},{"t":10,"a":3.8,"b":4.3,"c":4.3,"d":4.6,"e":4.3,"f":4.3},{"t":11,"a":3.4,"b":4.1,"c":4.1,"d":4.7,"e":4.0,"f":4.2},{"t":12,"a":3.0,"b":4.0,"c":4.0,"d":4.8,"e":3.5,"f":4.0},{"t":13,"a":2.4,"b":4.1,"c":3.9,"d":5.0,"e":3.6,"f":4.3},{"t":14,"a":2.9,"b":4.3,"c":3.8,"d":5.1,"e":3.8,"f":4.6},{"t":15,"a":3.2,"b":4.0,"c":3.9,"d":5.0,"e":4.1,"f":4.4},{"t":16,"a":3.0,"b":3.8,"c":4.0,"d":5.1,"e":4.3,"f":4.3},{"t":17,"a":2.7,"b":4.0,"c":4.2,"d":5.4,"e":4.1,"f":4.8},{"t":18,"a":3.0,"b":4.3,"c":4.3,"d":6.2,"e":4.0,"f":5.6},{"t":19,"a":3.2,"b":4.0,"c":4.1,"d":5.1,"e":3.9,"f":6.2},{"t":20,"a":2.7,"b":4.0,"c":3.5,"d":4.3,"e":3.8,"f":4.8},{"t":21,"a":2.3,"b":3.9,"c":3.6,"d":4.0,"e":3.6,"f":4.2},{"t":22,"a":1.9,"b":3.8,"c":3.8,"d":3.8,"e":3.2,"f":3.8},{"t":23,"a":1.1,"b":3.6,"c":3.5,"d":3.5,"e":3.3,"f":3.4},{"t":24,"a":1.2,"b":3.5,"c":3.2,"d":3.5,"e":3.2,"f":3.2},{"t":25,"a":1.6,"b":3.3,"c":3.4,"d":3.4,"e":3.0,"f":3.8},{"t":26,"a":2.3,"b":3.0,"c":4.2,"d":3.5,"e":3.0,"f":4.3},{"t":27,"a":2.7,"b":3.5,"c":4.5,"d":3.4,"e":3.2,"f":3.8},{"t":28,"a":3.2,"b":3.8,"c":4.7,"d":3.2,"e":3.2,"f":3.5},{"t":29,"a":2.1,"b":3.4,"c":4.0,"d":3.1,"e":2.9,"f":3.0},{"t":30,"a":1.6,"b":3.0,"c":3.8,"d":3.0,"e":2.7,"f":2.4},{"t":31,"a":0.8,"b":2.5,"c":2.7,"d":3.6,"e":2.0,"f":1.8},{"t":32,"a":0.32,"b":1.6,"c":2.5,"d":4.6,"e":1.35,"f":1.35},{"t":33,"a":0.3,"b":1.9,"c":2.4,"d":4.3,"e":1.5,"f":1.9},{"t":34,"a":0.32,"b":1.9,"c":2.5,"d":4.4,"e":1.6,"f":2.1},{"t":35,"a":0.3,"b":1.9,"c":2.4,"d":4.3,"e":1.6,"f":2.2},{"t":36,"a":0.32,"b":2.0,"c":2.5,"d":4.4,"e":1.5,"f":2.3},{"t":37,"a":0.3,"b":1.9,"c":2.4,"d":4.2,"e":1.7,"f":2.2},{"t":38,"a":0.32,"b":2.0,"c":2.5,"d":4.3,"e":1.6,"f":2.3},{"t":39,"a":0.3,"b":2.1,"c":2.4,"d":4.4,"e":1.7,"f":2.2},{"t":40,"a":0.32,"b":2.0,"c":2.4,"d":4.3,"e":1.75,"f":2.3},{"t":41,"a":0.3,"b":2.1,"c":2.5,"d":4.4,"e":1.8,"f":2.4},{"t":42,"a":0.32,"b":2.0,"c":2.4,"d":4.3,"e":1.7,"f":2.3},{"t":43,"a":0.3,"b":2.1,"c":2.5,"d":4.2,"e":1.8,"f":2.4},{"t":44,"a":0.32,"b":2.0,"c":2.4,"d":4.3,"e":1.9,"f":2.3},{"t":45,"a":0.3,"b":2.1,"c":2.5,"d":4.4,"e":1.9,"f":2.4},{"t":46,"a":0.32,"b":2.0,"c":2.4,"d":4.3,"e":1.8,"f":2.5},{"t":47,"a":0.3,"b":2.1,"c":2.5,"d":4.4,"e":1.9,"f":2.4},{"t":48,"a":0.32,"b":2.2,"c":2.4,"d":4.5,"e":2.0,"f":2.5},{"t":49,"a":0.3,"b":2.1,"c":2.5,"d":4.3,"e":1.9,"f":2.6},{"t":50,"a":0.32,"b":2.15,"c":2.45,"d":4.2,"e":2.0,"f":2.55}],
"LEG":[{"s":"a"},{"s":"b"},{"s":"c"},{"s":"d"},{"s":"e"},{"s":"f"}]
},
"spacing":3,
"resolve":{"scale":{"color":"independent","strokeDash":"independent"},"legend":{"color":"independent","strokeDash":"independent"}},
"vconcat":[
{"spacing":21,"bounds":"flush","resolve":{"scale":{"color":"independent","strokeDash":"independent"},"legend":{"color":"independent","strokeDash":"independent"}},
"hconcat":[
{"width":168,"height":112,"view":{"stroke":null},"title":{"text":"1-nm Au-NC without NaCl","anchor":"start","offset":-11,"fontSize":14.5},
"data":{"name":"LEG"},"transform":[{"filter":"datum.s == 'z'"}],"mark":"rule",
"encoding":{"color":{"field":"s","type":"nominal","scale":{"domain":["a","b","c","d","e","f"]},"legend":{"title":null,"labelExpr":"datum.label == 'a' ? 'subdomain IA' : datum.label == 'b' ? 'subdomain IB' : datum.label == 'c' ? 'subdomain IIA' : datum.label == 'd' ? 'subdomain IIB' : datum.label == 'e' ? 'subdomain IIIA' : 'subdomain IIIB'"}},
"strokeDash":{"field":"s","type":"nominal","scale":{"domain":["a","b","c","d","e","f"],"range":[[1,0],[9,4],[6,4],[4,2],[1,1],[7,2,1,2]]},"legend":{"title":null,"labelExpr":"datum.label == 'a' ? 'subdomain IA' : datum.label == 'b' ? 'subdomain IB' : datum.label == 'c' ? 'subdomain IIA' : datum.label == 'd' ? 'subdomain IIB' : datum.label == 'e' ? 'subdomain IIIA' : 'subdomain IIIB'"}}}},
{"width":155,"height":112,"title":{"text":"MD run 1"},"layer":[
{"data":{"name":"A"},"transform":[{"fold":["a","b","c","d","e","f"],"as":["s","v"]}],"mark":{"type":"line","strokeWidth":1.3,"strokeJoin":"round"},
"encoding":{"x":{"field":"t","type":"quantitative","scale":{"domain":[0,50]},"axis":{"values":[0,10,20,30,40,50],"title":"Time (ns)"}},"y":{"field":"v","type":"quantitative","scale":{"domain":[0,10]},"axis":{"values":[0,2,4,6,8,10],"title":"NC-BSA subdomain distance (nm)"}},"color":{"field":"s","type":"nominal","legend":null}}},
{"data":{"values":[{"lab":"A)"}]},"mark":{"type":"text","align":"left","baseline":"top","dx":3,"dy":3,"font":"Liberation Serif","fontWeight":"bold","fontSize":11.5},"encoding":{"x":{"datum":0,"type":"quantitative"},"y":{"datum":10,"type":"quantitative"},"text":{"field":"lab"}}}]},
{"width":155,"height":112,"title":{"text":"MD run 2"},"layer":[
{"data":{"name":"B"},"transform":[{"fold":["a","b","c","d","e","f"],"as":["s","v"]}],"mark":{"type":"line","strokeWidth":1.3,"strokeJoin":"round"},
"encoding":{"x":{"field":"t","type":"quantitative","scale":{"domain":[0,50]},"axis":{"values":[0,10,20,30,40,50],"title":"Time (ns)"}},"y":{"field":"v","type":"quantitative","scale":{"domain":[0,11]},"axis":{"values":[0,2,4,6,8,10],"title":"NC-BSA subdomain distance (nm)"}},"color":{"field":"s","type":"nominal","legend":null}}},
{"data":{"values":[{"lab":"B)"}]},"mark":{"type":"text","align":"left","baseline":"top","dx":3,"dy":3,"font":"Liberation Serif","fontWeight":"bold","fontSize":11.5},"encoding":{"x":{"datum":0,"type":"quantitative"},"y":{"datum":11,"type":"quantitative"},"text":{"field":"lab"}}}]},
{"width":155,"height":112,"title":{"text":"MD run 3"},"layer":[
{"data":{"name":"C"},"transform":[{"fold":["a","b","c","d","e","f"],"as":["s","v"]}],"mark":{"type":"line","strokeWidth":1.3,"strokeJoin":"round"},
"encoding":{"x":{"field":"t","type":"quantitative","scale":{"domain":[0,50]},"axis":{"values":[0,10,20,30,40,50],"title":"Time (ns)"}},"y":{"field":"v","type":"quantitative","scale":{"domain":[0,11]},"axis":{"values":[0,2,4,6,8,10],"title":"NC -BSA subdomain distance (nm)"}},"color":{"field":"s","type":"nominal","legend":null}}},
{"data":{"values":[{"lab":"C)"}]},"mark":{"type":"text","align":"left","baseline":"top","dx":3,"dy":3,"font":"Liberation Serif","fontWeight":"bold","fontSize":11.5},"encoding":{"x":{"datum":0,"type":"quantitative"},"y":{"datum":11,"type":"quantitative"},"text":{"field":"lab"}}}]}
]},
{"spacing":21,"bounds":"flush","resolve":{"scale":{"color":"independent","strokeDash":"independent"},"legend":{"color":"independent","strokeDash":"independent"}},
"hconcat":[
{"width":168,"height":113,"view":{"stroke":null},"title":{"text":"3-nm Au-NP without NaCl","anchor":"start","offset":-11,"fontSize":14.5},
"data":{"name":"LEG"},"transform":[{"filter":"datum.s == 'z'"}],"mark":"rule",
"encoding":{"color":{"field":"s","type":"nominal","scale":{"domain":["a","b","c","d","e","f"]},"legend":{"title":null,"labelExpr":"datum.label == 'a' ? 'subdomain IA' : datum.label == 'b' ? 'subdomain IB' : datum.label == 'c' ? 'subdomain IIA' : datum.label == 'd' ? 'subdomain IIB' : datum.label == 'e' ? 'subdomain IIIA' : 'subdomain IIIB'"}},
"strokeDash":{"field":"s","type":"nominal","scale":{"domain":["a","b","c","d","e","f"],"range":[[1,0],[9,4],[6,4],[4,2],[1,1],[7,2,1,2]]},"legend":{"title":null,"labelExpr":"datum.label == 'a' ? 'subdomain IA' : datum.label == 'b' ? 'subdomain IB' : datum.label == 'c' ? 'subdomain IIA' : datum.label == 'd' ? 'subdomain IIB' : datum.label == 'e' ? 'subdomain IIIA' : 'subdomain IIIB'"}}}},
{"width":155,"height":113,"layer":[
{"data":{"name":"D"},"transform":[{"fold":["a","b","c","d","e","f"],"as":["s","v"]}],"mark":{"type":"line","strokeWidth":1.3,"strokeJoin":"round"},
"encoding":{"x":{"field":"t","type":"quantitative","scale":{"domain":[0,50]},"axis":{"values":[0,10,20,30,40,50],"title":"Time (ns)"}},"y":{"field":"v","type":"quantitative","scale":{"domain":[0,10]},"axis":{"values":[0,2,4,6,8,10],"title":"NP-BSA subdomain distance (nm)"}},"color":{"field":"s","type":"nominal","legend":null}}},
{"data":{"values":[{"lab":"D)"}]},"mark":{"type":"text","align":"left","baseline":"top","dx":3,"dy":3,"font":"Liberation Serif","fontWeight":"bold","fontSize":11.5},"encoding":{"x":{"datum":0,"type":"quantitative"},"y":{"datum":10,"type":"quantitative"},"text":{"field":"lab"}}}]},
{"width":155,"height":113,"layer":[
{"data":{"name":"E"},"transform":[{"fold":["a","b","c","d","e","f"],"as":["s","v"]}],"mark":{"type":"line","strokeWidth":1.3,"strokeJoin":"round"},
"encoding":{"x":{"field":"t","type":"quantitative","scale":{"domain":[0,50]},"axis":{"values":[0,10,20,30,40,50],"title":"Time (ns)"}},"y":{"field":"v","type":"quantitative","scale":{"domain":[0,10]},"axis":{"values":[0,2,4,6,8,10],"title":"NP-BSA subdomain distance (nm)"}},"color":{"field":"s","type":"nominal","legend":null}}},
{"data":{"values":[{"lab":"E)"}]},"mark":{"type":"text","align":"left","baseline":"top","dx":3,"dy":3,"font":"Liberation Serif","fontWeight":"bold","fontSize":11.5},"encoding":{"x":{"datum":0,"type":"quantitative"},"y":{"datum":10,"type":"quantitative"},"text":{"field":"lab"}}}]},
{"width":155,"height":113,"layer":[
{"data":{"name":"F"},"transform":[{"fold":["a","b","c","d","e","f"],"as":["s","v"]}],"mark":{"type":"line","strokeWidth":1.3,"strokeJoin":"round"},
"encoding":{"x":{"field":"t","type":"quantitative","scale":{"domain":[0,50]},"axis":{"values":[0,10,20,30,40,50],"title":"Time (ns)"}},"y":{"field":"v","type":"quantitative","scale":{"domain":[0,8]},"axis":{"values":[0,2,4,6,8],"title":"NP-BSA subdomain distance (nm)"}},"color":{"field":"s","type":"nominal","legend":null}}},
{"data":{"values":[{"lab":"F)"}]},"mark":{"type":"text","align":"left","baseline":"top","dx":3,"dy":3,"font":"Liberation Serif","fontWeight":"bold","fontSize":11.5},"encoding":{"x":{"datum":0,"type":"quantitative"},"y":{"datum":8,"type":"quantitative"},"text":{"field":"lab"}}}]}
]},
{"spacing":21,"bounds":"flush","resolve":{"scale":{"color":"independent","strokeDash":"independent"},"legend":{"color":"independent","strokeDash":"independent"}},
"hconcat":[
{"width":168,"height":113,"view":{"stroke":null},"title":{"text":"5-nm Au-NP without NaCl","anchor":"start","offset":-11,"fontSize":14.5},
"data":{"name":"LEG"},"transform":[{"filter":"datum.s == 'z'"}],"mark":"rule",
"encoding":{"color":{"field":"s","type":"nominal","scale":{"domain":["a","b","c","d","e","f"]},"legend":{"title":null,"labelExpr":"datum.label == 'a' ? 'subdomain IA' : datum.label == 'b' ? 'subdomain IB' : datum.label == 'c' ? 'subdomain IIA' : datum.label == 'd' ? 'subdomain IIB' : datum.label == 'e' ? 'subdomain IIIA' : 'subdomain IIIB'"}},
"strokeDash":{"field":"s","type":"nominal","scale":{"domain":["a","b","c","d","e","f"],"range":[[1,0],[9,4],[6,4],[4,2],[1,1],[7,2,1,2]]},"legend":{"title":null,"labelExpr":"datum.label == 'a' ? 'subdomain IA' : datum.label == 'b' ? 'subdomain IB' : datum.label == 'c' ? 'subdomain IIA' : datum.label == 'd' ? 'subdomain IIB' : datum.label == 'e' ? 'subdomain IIIA' : 'subdomain IIIB'"}}}},
{"width":155,"height":113,"layer":[
{"data":{"name":"G"},"transform":[{"fold":["a","b","c","d","e","f"],"as":["s","v"]}],"mark":{"type":"line","strokeWidth":1.3,"strokeJoin":"round"},
"encoding":{"x":{"field":"t","type":"quantitative","scale":{"domain":[0,50]},"axis":{"values":[0,10,20,30,40,50],"title":"Time (ns)"}},"y":{"field":"v","type":"quantitative","scale":{"domain":[0,9]},"axis":{"values":[0,2,4,6,8],"title":"NP-BSA subdomain distance (nm)"}},"color":{"field":"s","type":"nominal","legend":null}}},
{"data":{"values":[{"lab":"G)"}]},"mark":{"type":"text","align":"left","baseline":"top","dx":3,"dy":3,"font":"Liberation Serif","fontWeight":"bold","fontSize":11.5},"encoding":{"x":{"datum":0,"type":"quantitative"},"y":{"datum":9,"type":"quantitative"},"text":{"field":"lab"}}}]},
{"width":155,"height":113,"layer":[
{"data":{"name":"H"},"transform":[{"fold":["a","b","c","d","e","f"],"as":["s","v"]}],"mark":{"type":"line","strokeWidth":1.3,"strokeJoin":"round"},
"encoding":{"x":{"field":"t","type":"quantitative","scale":{"domain":[0,50]},"axis":{"values":[0,10,20,30,40,50],"title":"Time (ns)"}},"y":{"field":"v","type":"quantitative","scale":{"domain":[0,9]},"axis":{"values":[0,2,4,6,8],"title":"NP-BSA subdomain distance (nm)"}},"color":{"field":"s","type":"nominal","legend":null}}},
{"data":{"values":[{"lab":"H)"}]},"mark":{"type":"text","align":"left","baseline":"top","dx":3,"dy":3,"font":"Liberation Serif","fontWeight":"bold","fontSize":11.5},"encoding":{"x":{"datum":0,"type":"quantitative"},"y":{"datum":9,"type":"quantitative"},"text":{"field":"lab"}}}]},
{"width":155,"height":113,"layer":[
{"data":{"name":"I"},"transform":[{"fold":["a","b","c","d","e","f"],"as":["s","v"]}],"mark":{"type":"line","strokeWidth":1.3,"strokeJoin":"round"},
"encoding":{"x":{"field":"t","type":"quantitative","scale":{"domain":[0,50]},"axis":{"values":[0,10,20,30,40,50],"title":"Time (ns)"}},"y":{"field":"v","type":"quantitative","scale":{"domain":[0,9]},"axis":{"values":[0,2,4,6,8],"title":"NP-BSA subdomain distance (nm)"}},"color":{"field":"s","type":"nominal","legend":null}}},
{"data":{"values":[{"lab":"I)"}]},"mark":{"type":"text","align":"left","baseline":"top","dx":3,"dy":3,"font":"Liberation Serif","fontWeight":"bold","fontSize":11.5},"encoding":{"x":{"datum":0,"type":"quantitative"},"y":{"datum":9,"type":"quantitative"},"text":{"field":"lab"}}}]}
]}
],
"config":{
"font":"Liberation Sans",
"view":{"stroke":"#000","strokeWidth":0.8},
"axis":{"grid":false,"domain":false,"labelFont":"Liberation Sans","labelFontSize":4.5,"labelColor":"#000","labelOverlap":false,"labelBound":false,"labelFlush":false,"tickSize":1.5,"tickColor":"#000","tickWidth":0.5,"labelPadding":0.5,"titleFont":"Liberation Sans","titleFontSize":7,"titleFontWeight":"bold","titleColor":"#000","titlePadding":2},
"axisX":{"titlePadding":0.5},
"axisY":{"titlePadding":3},
"title":{"font":"Liberation Serif","fontSize":15,"fontWeight":"bold","color":"#000","offset":3,"baseline":"alphabetic","frame":"group"},
"legend":{"orient":"none","legendX":86,"legendY":19,"strokeColor":"#666","fillColor":"#fff","padding":4,"symbolType":"stroke","symbolSize":360,"symbolStrokeWidth":1.2,"clipHeight":6,"rowPadding":0.9,"labelFont":"Liberation Sans","labelFontSize":5.8,"labelFontWeight":"bold","labelColor":"#000","labelOffset":5},
"range":{"category":["#9c1b1b","#ff8414","#c4c41a","#24992a","#2aa3a3","#1d4f9a"]}
}
}
